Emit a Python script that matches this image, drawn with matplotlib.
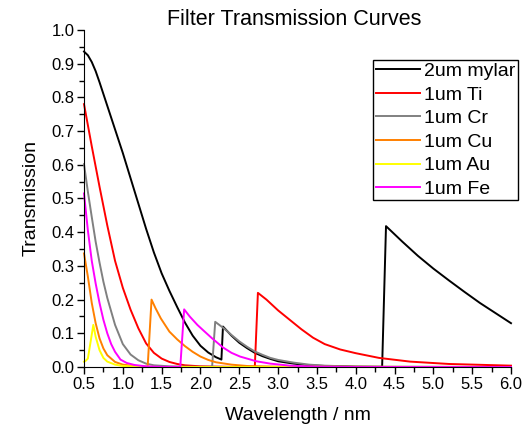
import matplotlib
matplotlib.use('Agg')
import matplotlib.pyplot as plt
from matplotlib.ticker import MultipleLocator, FormatStrFormatter

plt.rcParams['font.family'] = ['Liberation Sans', 'DejaVu Sans']

# transmission vs wavelength (nm) for each filter
mylar_wl = [0.5, 0.55, 0.6, 0.65, 0.7, 0.75, 0.8, 0.9, 1.0, 1.1, 1.2, 1.3, 1.4, 1.5, 1.6, 1.7, 1.8, 1.9, 2.0,
            2.1, 2.2, 2.27,
            2.29, 2.4, 2.5, 2.6, 2.7, 2.8, 2.9, 3.0, 3.2, 3.4, 3.6, 4.0, 4.34,
            4.39, 4.6, 4.8, 5.0, 5.2, 5.4, 5.6, 5.8, 6.0]
mylar_tr = [0.936, 0.925, 0.905, 0.878, 0.845, 0.81, 0.775, 0.705, 0.635, 0.56, 0.485, 0.41, 0.34, 0.278, 0.226,
            0.178, 0.132, 0.093, 0.063, 0.043, 0.029, 0.022,
            0.12, 0.093, 0.072, 0.056, 0.042, 0.032, 0.024, 0.017, 0.01, 0.005, 0.003, 0.001, 0.0005,
            0.418, 0.372, 0.33, 0.292, 0.257, 0.223, 0.19, 0.16, 0.13]

ti_wl = [0.5, 0.6, 0.7, 0.8, 0.9, 1.0, 1.1, 1.2, 1.3, 1.4, 1.5, 1.6, 1.7, 1.8, 2.0, 2.4, 2.7,
         2.74, 2.85, 3.0, 3.15, 3.3, 3.45, 3.6, 3.8, 4.0, 4.3, 4.7, 5.2, 6.0]
ti_tr = [0.78, 0.655, 0.535, 0.42, 0.315, 0.235, 0.17, 0.115, 0.07, 0.042, 0.025, 0.015, 0.009, 0.005, 0.002,
         0.0005, 0.0003,
         0.22, 0.2, 0.168, 0.14, 0.112, 0.087, 0.068, 0.052, 0.041, 0.027, 0.016, 0.009, 0.004]

cr_wl = [0.5, 0.55, 0.6, 0.65, 0.7, 0.75, 0.8, 0.9, 1.0, 1.1, 1.2, 1.3, 1.4, 1.6, 1.8, 2.0, 2.15,
         2.19, 2.3, 2.4, 2.5, 2.6, 2.7, 2.8, 2.9, 3.0, 3.2, 3.4, 3.6, 4.0, 6.0]
cr_tr = [0.602, 0.52, 0.445, 0.372, 0.31, 0.253, 0.205, 0.125, 0.068, 0.037, 0.02, 0.01, 0.005, 0.002, 0.001,
         0.0005, 0.0003,
         0.134, 0.115, 0.095, 0.076, 0.06, 0.046, 0.036, 0.027, 0.021, 0.013, 0.007, 0.004, 0.001, 0.0]

cu_wl = [0.5, 0.55, 0.6, 0.65, 0.7, 0.75, 0.8, 0.9, 1.0, 1.15, 1.32,
         1.37, 1.42, 1.49, 1.6, 1.7, 1.8, 1.9, 2.0, 2.1, 2.2, 2.4, 2.6, 3.0, 6.0]
cu_tr = [0.337, 0.268, 0.19, 0.13, 0.085, 0.055, 0.035, 0.015, 0.007, 0.003, 0.001,
         0.2, 0.175, 0.144, 0.105, 0.082, 0.062, 0.045, 0.031, 0.021, 0.014, 0.007, 0.003, 0.001, 0.0]

au_wl = [0.5, 0.52, 0.55, 0.62, 0.65, 0.7, 0.75, 0.8, 0.9, 1.0, 1.2, 1.5, 6.0]
au_tr = [0.016, 0.018, 0.025, 0.125, 0.09, 0.05, 0.027, 0.016, 0.007, 0.003, 0.001, 0.0, 0.0]

fe_wl = [0.5, 0.55, 0.6, 0.65, 0.7, 0.75, 0.8, 0.85, 0.9, 0.97, 1.05, 1.15, 1.3, 1.5, 1.74,
         1.79, 1.865, 1.96, 2.04, 2.15, 2.29, 2.4, 2.51, 2.72, 2.9, 3.15, 3.5, 4.0, 6.0]
fe_tr = [0.515, 0.405, 0.315, 0.248, 0.19, 0.14, 0.1, 0.068, 0.045, 0.022, 0.012, 0.006, 0.002, 0.0005, 0.0002,
         0.171, 0.149, 0.125, 0.108, 0.085, 0.058, 0.042, 0.031, 0.017, 0.01, 0.004, 0.001, 0.0, 0.0]

series = [
    ('2um mylar', mylar_wl, mylar_tr, 'black'),
    ('1um Ti', ti_wl, ti_tr, '#ff0000'),
    ('1um Cr', cr_wl, cr_tr, '#808080'),
    ('1um Cu', cu_wl, cu_tr, '#ff8000'),
    ('1um Au', au_wl, au_tr, '#ffff00'),
    ('1um Fe', fe_wl, fe_tr, '#ff00ff'),
]

fig = plt.figure(figsize=(5.28, 4.28), dpi=100)
ax = fig.add_axes([84/528, 1 - 367/428, 427/528, 337/428])

for name, wl, tr, col in series:
    ax.plot(wl, tr, color=col, lw=1.4, label=name, clip_on=False)

ax.set_xlim(0.5, 6.0)
ax.set_ylim(0.0, 1.0)
ax.spines['top'].set_visible(False)
ax.spines['right'].set_visible(False)
ax.xaxis.set_major_locator(MultipleLocator(0.5))
ax.xaxis.set_minor_locator(MultipleLocator(0.25))
ax.yaxis.set_major_locator(MultipleLocator(0.1))
ax.yaxis.set_minor_locator(MultipleLocator(0.05))
ax.xaxis.set_major_formatter(FormatStrFormatter('%.1f'))
ax.yaxis.set_major_formatter(FormatStrFormatter('%.1f'))
ax.tick_params(which='major', direction='out', length=5, width=1, labelsize=12, pad=2)
ax.tick_params(which='minor', direction='out', length=3.5, width=1)

ax.set_xlabel('Wavelength / nm', fontsize=14, labelpad=11)
ax.set_ylabel('Transmission', fontsize=14, labelpad=8)
fig.text(0.558, 0.955, 'Filter Transmission Curves', fontsize=15.5, ha='center', va='center')

leg = ax.legend(loc='upper right', bbox_to_anchor=(518/528, 1 - 60/428), bbox_transform=fig.transFigure,
                fontsize=14, frameon=True, fancybox=False, framealpha=1, edgecolor='black',
                handlelength=2.3, handletextpad=0.2, labelspacing=0.31, borderpad=0.12, borderaxespad=0)
leg.get_frame().set_linewidth(1.0)

fig.savefig('out.png', dpi=100)
